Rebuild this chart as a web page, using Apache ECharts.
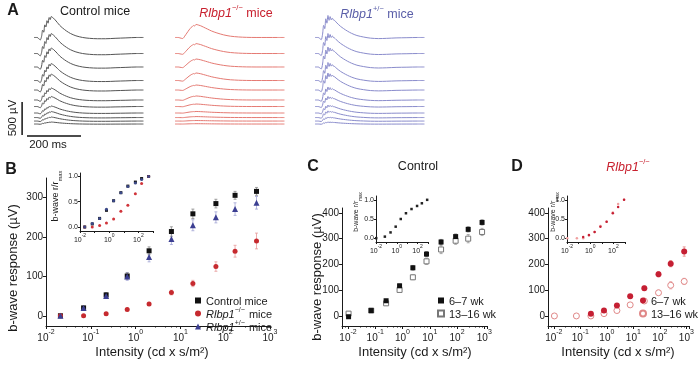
<!DOCTYPE html>
<html>
<head>
<meta charset="utf-8">
<script src="https://cdn.jsdelivr.net/npm/echarts@6.0.0/dist/echarts.min.js"></script>
<style>
html,body{margin:0;padding:0;background:#fff;}
#chart{width:699px;height:371px;}
</style>
</head>
<body>
<div id="chart"></div>
<script>
// ===== Panel A: ERG traces (time in ms, normalised waveform shapes, amplitudes in µV) =====
const traceTimeMs = [0, 12, 18, 23, 28, 32, 36, 40, 44, 48, 52, 56, 60, 64, 68, 72, 78, 86, 95, 105, 120, 135, 155, 180, 205, 235, 265, 300, 340, 380, 405];
const controlShape = [0, 0, -0.06, -0.12, 0.05, 0.35, 0.25, 0.6, 0.5, 0.8, 0.68, 0.95, 0.85, 1.0, 0.96, 0.92, 0.84, 0.72, 0.58, 0.46, 0.31, 0.19, 0.08, 0.0, -0.04, -0.06, -0.06, -0.04, -0.02, 0.0, 0.0];
const knockoutShape = [0, 0, -0.03, -0.06, -0.08, -0.02, 0.1, 0.22, 0.34, 0.46, 0.58, 0.68, 0.78, 0.84, 0.92, 0.88, 1.0, 0.96, 0.9, 0.8, 0.65, 0.5, 0.35, 0.2, 0.1, 0.04, 0.01, 0, 0, 0, 0];
const hetShape = [0, 0, -0.05, -0.1, 0.15, 0.55, 0.4, 0.85, 0.65, 1.0, 0.78, 0.95, 0.8, 0.88, 0.8, 0.78, 0.7, 0.6, 0.5, 0.41, 0.29, 0.19, 0.09, 0.02, -0.03, -0.05, -0.04, -0.02, -0.01, 0.0, 0.0];
const controlAmpUV = [318, 303, 288, 258, 242, 182, 152, 106, 91, 61, 30];
const knockoutAmpUV = [197, 150, 121, 114, 76, 61, 38, 23, 15, 8, 5];
const hetAmpUV = [333, 303, 303, 273, 258, 197, 152, 121, 101, 61, 30];
const traceOffsetUV = [1311, 1068, 864, 659, 515, 364, 265, 167, 98, 45, 0];
const scaleBarUV = 500;
const scaleBarMs = 200;

// ===== Panel B =====
const intensityB = [0.021, 0.069, 0.22, 0.65, 2.0, 6.3, 19, 62, 166, 500];
const controlB = [0, 20, 53, 101, 165, 214, 259, 285, 306, 316];
const controlBErr = [3, 4, 6, 8, 10, 12, 12, 11, 10, 10];
const knockoutB = [0, 0, 5, 16, 30, 59, 82, 125, 164, 190];
const knockoutBErr = [2, 2, 3, 3, 4, 6, 8, 12, 15, 20];
const hetB = [0, 20, 50, 100, 149, 195, 230, 250, 271, 287];
const hetBErr = [3, 4, 6, 10, 12, 14, 14, 14, 16, 16];
const controlBNorm = [0, 0.06, 0.17, 0.33, 0.52, 0.68, 0.81, 0.89, 0.96, 1.0];
const knockoutBNorm = [0, 0, 0.03, 0.08, 0.16, 0.31, 0.43, 0.66, 0.86, 1.0];
const hetBNorm = [0, 0.07, 0.17, 0.35, 0.52, 0.68, 0.8, 0.87, 0.94, 1.0];

// ===== Panels C and D =====
const intensityCD = [0.0105, 0.071, 0.25, 0.78, 2.4, 7.6, 26, 89, 257, 830];
const controlYoung = [-3, 21, 59, 117, 187, 240, 287, 308, 336, 363];
const controlYoungErr = [4, 4, 5, 7, 9, 10, 10, 10, 10, 10];
const controlOld = [9, 21, 49, 101, 150, 212, 258, 292, 300, 326];
const controlOldErr = [5, 4, 5, 7, 9, 12, 16, 14, 16, 14];
const controlYoungNorm = [0, 0.04, 0.15, 0.3, 0.5, 0.65, 0.76, 0.84, 0.91, 1.0];
const knockoutYoung = [null, null, 9, 21, 41, 76, 108, 162, 203, 250];
const knockoutYoungErr = [0, 0, 5, 6, 6, 7, 8, 10, 12, 18];
const knockoutOld = [0, 0, 0, 9, 21, 43, 58, 90, 119, 134];
const knockoutOldErr = [2, 2, 3, 4, 5, 6, 6, 10, 14, 12];
const knockoutYoungNorm = [null, null, 0.03, 0.08, 0.16, 0.3, 0.43, 0.65, 0.81, 1.0];
const knockoutOldNorm = [0, 0, 0, 0.07, 0.16, 0.32, 0.43, 0.67, 0.89, 1.0];

const yTicksB = [0, 100, 200, 300];
const yTicksCD = [0, 100, 200, 300, 400];
const yTicksInset = [0, 0.5, 1.0];

// ===== Styling =====
const FONT = '"Liberation Sans", Arial, Helvetica, sans-serif';
const INK = '#1a1a1a';
const GRAY_TRACE = '#555555';
const RED_TRACE = '#e57a73';
const BLUE_TRACE = '#8a8ccc';
const RED_TITLE = '#c8202e';
const BLUE_TITLE = '#5a5ea8';
const RED_DOT = '#c62a2f';
const BLUE_DOT = '#3c3f92';

const chart = echarts.init(document.getElementById('chart'), null, {renderer: 'canvas'});

const grids = [
  {left: 20, top: 5, width: 124, height: 135},
  {left: 175, top: 5, width: 110, height: 135},
  {left: 315, top: 5, width: 110, height: 135},
  {left: 46, top: 178, width: 224, height: 148},
  {left: 80, top: 173, width: 73, height: 58},
  {left: 342, top: 208, width: 145, height: 118},
  {left: 376, top: 196, width: 52, height: 46},
  {left: 548, top: 208, width: 141, height: 118},
  {left: 567, top: 196, width: 58, height: 46}
];

function powLabel(everyOther) {
  return function (v) {
    const l = Math.log10(v), e = Math.round(l);
    if (Math.abs(l - e) > 0.02) return '';
    if (everyOther && e % 2 !== 0) return '';
    return '{b|10}{s|' + (e < 0 ? '-' + (-e) : e) + '}';
  };
}
function logX(gi, min, max, small) {
  const fs = small ? 7 : 10;
  return {
    type: 'log', logBase: 10, gridIndex: gi, min: min, max: max,
    axisLine: {onZero: false, lineStyle: {color: INK, width: 1}},
    axisTick: {length: small ? 2 : 3, lineStyle: {color: INK}},
    minorTick: {show: true, splitNumber: 5, length: small ? 1 : 1.5, lineStyle: {color: INK}},
    splitLine: {show: false},
    axisLabel: {
      margin: small ? 2 : 3, color: INK, formatter: powLabel(small), hideOverlap: false,
      rich: {
        b: {fontFamily: FONT, fontSize: fs, color: INK, lineHeight: fs + 4, verticalAlign: 'bottom'},
        s: {fontFamily: FONT, fontSize: small ? 5 : 7, color: INK, lineHeight: small ? 5 : 7, verticalAlign: 'top'}
      }
    }
  };
}
function valY(gi, min, max, ticks, small) {
  return {
    type: 'value', gridIndex: gi, min: min, max: max,
    axisLine: {show: true, onZero: false, lineStyle: {color: INK, width: 1}},
    axisTick: {show: true, length: small ? 2 : 3, customValues: ticks, lineStyle: {color: INK}},
    splitLine: {show: false},
    axisLabel: {
      customValues: ticks, fontFamily: FONT, fontSize: small ? 7 : 10, color: INK, margin: small ? 2 : 3,
      formatter: small ? (v => v.toFixed(1)) : (v => String(v))
    }
  };
}
function hiddenAxis(gi, min, max) {
  return {type: 'value', gridIndex: gi, min: min, max: max, show: false};
}

const xAxes = [
  hiddenAxis(0, -51.8, 407), hiddenAxis(1, 0, 407), hiddenAxis(2, 0, 407),
  logX(3, 0.01, 1000, false),
  logX(4, 0.01, 1000, true),
  logX(5, Math.pow(10, -2.22), Math.pow(10, 3.1), false),
  logX(6, 0.01, 1000, true),
  logX(7, Math.pow(10, -2.22), Math.pow(10, 3.1), false),
  logX(8, 0.01, 1000, true)
];
const yAxes = [
  hiddenAxis(0, -242, 1803), hiddenAxis(1, -242, 1803), hiddenAxis(2, -242, 1803),
  valY(3, -26, 350, yTicksB, false),
  valY(4, -0.08, 1.07, yTicksInset, true),
  valY(5, -39, 419, yTicksCD, false),
  valY(6, -0.1, 1.1, yTicksInset, true),
  valY(7, -39, 419, yTicksCD, false),
  valY(8, -0.1, 1.1, yTicksInset, true)
];

const series = [];

// ERG traces
function addTraces(axisIdx, shape, amps, color) {
  amps.forEach(function (amp, i) {
    series.push({
      type: 'line', xAxisIndex: axisIdx, yAxisIndex: axisIdx, silent: true, showSymbol: false, smooth: 0.3,
      lineStyle: {color: color, width: 1},
      data: traceTimeMs.map((t, k) => [t, traceOffsetUV[i] + amp * shape[k]])
    });
  });
}
addTraces(0, controlShape, controlAmpUV, GRAY_TRACE);
addTraces(1, knockoutShape, knockoutAmpUV, RED_TRACE);
addTraces(2, hetShape, hetAmpUV, BLUE_TRACE);

// scale bars (in data units of the control trace panel)
const barT = -44, barBase = -167, barH = -182, barStart = -26;
series.push({type: 'line', xAxisIndex: 0, yAxisIndex: 0, silent: true, showSymbol: false,
  lineStyle: {color: '#111', width: 1.5}, data: [[barT, barBase], [barT, barBase + scaleBarUV]]});
series.push({type: 'line', xAxisIndex: 0, yAxisIndex: 0, silent: true, showSymbol: false,
  lineStyle: {color: '#111', width: 1.5}, data: [[barStart, barH], [barStart + scaleBarMs, barH]]});

function errBars(ai, xs, ys, es, color, cap) {
  return {
    type: 'custom', xAxisIndex: ai, yAxisIndex: ai, silent: true, z: 2,
    data: xs.map((x, i) => ys[i] == null ? null : [x, ys[i], es[i]]).filter(d => d),
    encode: {x: 0, y: 1},
    renderItem: function (params, api) {
      const x = api.value(0), y = api.value(1), e = api.value(2);
      const hi = api.coord([x, y + e]), lo = api.coord([x, y - e]);
      const w = cap / 2;
      const st = {stroke: color, lineWidth: 0.8};
      return {type: 'group', children: [
        {type: 'line', shape: {x1: hi[0], y1: hi[1], x2: lo[0], y2: lo[1]}, style: st},
        {type: 'line', shape: {x1: hi[0] - w, y1: hi[1], x2: hi[0] + w, y2: hi[1]}, style: st},
        {type: 'line', shape: {x1: lo[0] - w, y1: lo[1], x2: lo[0] + w, y2: lo[1]}, style: st}
      ]};
    }
  };
}
function scat(name, ai, xs, ys, symbol, size, fill, stroke) {
  return {
    type: 'scatter', name: name, xAxisIndex: ai, yAxisIndex: ai, silent: true, z: 3,
    symbol: symbol, symbolSize: size,
    data: xs.map((x, i) => ys[i] == null ? null : [x, ys[i]]).filter(d => d),
    itemStyle: {color: fill, borderColor: stroke || fill, borderWidth: stroke ? 1 : 0, opacity: 1}
  };
}

// Panel B
series.push(errBars(3, intensityB, knockoutB, knockoutBErr, '#e79a9a', 3));
series.push(errBars(3, intensityB, hetB, hetBErr, '#a2a4d4', 3));
series.push(errBars(3, intensityB, controlB, controlBErr, '#8a8a8a', 3));
series.push(scat('Control mice', 3, intensityB, controlB, 'rect', 5, '#111'));
series.push(scat('KO mice', 3, intensityB, knockoutB, 'circle', 5, RED_DOT));
series.push(scat('Het mice', 3, intensityB, hetB, 'triangle', 6, BLUE_DOT));
// Panel B inset
series.push(scat('bi-c', 4, intensityB, controlBNorm, 'rect', 3, '#111'));
series.push(scat('bi-k', 4, intensityB, knockoutBNorm, 'circle', 3, '#d0343a'));
series.push(scat('bi-h', 4, intensityB, hetBNorm, 'circle', 3, '#3c4a8a'));

// Panel C
series.push(errBars(5, intensityCD, controlOld, controlOldErr, '#999', 3));
series.push(errBars(5, intensityCD, controlYoung, controlYoungErr, '#777', 3));
series.push(scat('C 13–16 wk', 5, intensityCD, controlOld, 'rect', 5, '#fff', '#777'));
series.push(scat('C 6–7 wk', 5, intensityCD, controlYoung, 'rect', 5, '#111'));
series.push(scat('ci', 6, intensityCD, controlYoungNorm, 'rect', 2.5, '#222'));

// Panel D
series.push(errBars(7, intensityCD, knockoutOld, knockoutOldErr, '#eaa0a0', 3));
series.push(errBars(7, intensityCD, knockoutYoung, knockoutYoungErr, '#e58080', 3));
series.push(scat('D 13–16 wk', 7, intensityCD, knockoutOld, 'circle', 6, '#fff', '#e08888'));
series.push(scat('D 6–7 wk', 7, intensityCD, knockoutYoung, 'circle', 6, '#c51f33'));
series.push(scat('di-o', 8, intensityCD, knockoutOldNorm, 'circle', 2.5, '#f0a0a0'));
series.push(scat('di-y', 8, intensityCD, knockoutYoungNorm, 'circle', 2.5, '#c51f33'));

const legRich = {
  i: {fontFamily: FONT, fontSize: 11, fontStyle: 'italic', color: INK, lineHeight: 13, verticalAlign: 'bottom'},
  s: {fontFamily: FONT, fontSize: 7, color: INK, lineHeight: 8, verticalAlign: 'top', padding: [0, 1, 0, 0]},
  n: {fontFamily: FONT, fontSize: 11, color: INK, lineHeight: 13, verticalAlign: 'bottom'}
};
function legend(left, top, data, fmt) {
  return {
    left: left, top: top, orient: 'vertical', padding: 0, itemGap: 0, itemWidth: 6, itemHeight: 6,
    selectedMode: false, data: data, formatter: fmt,
    textStyle: {fontFamily: FONT, fontSize: 11, color: INK, lineHeight: 13, rich: legRich}
  };
}
const legends = [
  legend(195, 294, ['Control mice', 'KO mice', 'Het mice'], function (n) {
    if (n === 'KO mice') return '{i|Rlbp1}{s|−/−}{n|\u00a0mice}';
    if (n === 'Het mice') return '{i|Rlbp1}{s|+/−}{n|\u00a0mice}';
    return '{n|' + n + '}';
  }),
  legend(437, 294, ['C 6–7 wk', 'C 13–16 wk'], n => '{n|' + n.slice(2) + '}'),
  legend(639, 294, ['D 6–7 wk', 'D 13–16 wk'], n => '{n|' + n.slice(2) + '}')
];

function T(text, x, y, o) {
  o = o || {};
  return {
    type: 'text', x: x, y: y, rotation: o.rot || 0, silent: true,
    style: {
      text: text, fill: o.color || INK, fontFamily: FONT, fontSize: o.size || 12.5,
      fontWeight: o.bold ? 'bold' : 'normal', fontStyle: o.italic ? 'italic' : 'normal',
      align: o.align || 'center', verticalAlign: 'middle',
      textAlign: o.align || 'center', textVerticalAlign: 'middle', rich: o.rich
    }
  };
}
function geneRich(color, size) {
  return {
    i: {fontFamily: FONT, fontSize: size, fontStyle: 'italic', fill: color, color: color, lineHeight: size + 3, verticalAlign: 'bottom'},
    s: {fontFamily: FONT, fontSize: size * 0.6, fill: color, color: color, lineHeight: size * 0.6, verticalAlign: 'top'},
    n: {fontFamily: FONT, fontSize: size, fill: color, color: color, lineHeight: size + 3, verticalAlign: 'bottom'}
  };
}
function subRich(size) {
  return {
    n: {fontFamily: FONT, fontSize: size, fill: INK, lineHeight: size + 3, verticalAlign: 'top'},
    m: {fontFamily: FONT, fontSize: size * 0.65, fill: INK, lineHeight: size * 0.65, verticalAlign: 'bottom'}
  };
}
const HALF = Math.PI / 2;
const graphic = [
  T('A', 13, 11, {size: 16, bold: true}),
  T('Control mice', 95, 12),
  T('{i|Rlbp1}{s|−/−}{n|\u00a0mice}', 236, 12, {color: RED_TITLE, rich: geneRich(RED_TITLE, 12.5)}),
  T('{i|Rlbp1}{s|+/−}{n|\u00a0mice}', 377, 13, {color: BLUE_TITLE, rich: geneRich(BLUE_TITLE, 12.5)}),
  T('500 µV', 13, 118, {size: 11.5, rot: HALF}),
  T('200 ms', 48, 145, {size: 11.5}),
  T('B', 11, 170, {size: 16, bold: true}),
  T('b-wave response (µV)', 13, 268, {size: 13, rot: HALF}),
  T('Intensity (cd x s/m²)', 152, 352, {size: 13}),
  T('{n|b-wave r/r}{m|max}', 57, 196, {size: 9, rot: HALF, rich: subRich(9)}),
  T('C', 313, 167, {size: 16, bold: true}),
  T('Control', 418, 167),
  T('b-wave response (µV)', 317, 277, {size: 13, rot: HALF}),
  T('Intensity (cd x s/m²)', 415, 352, {size: 13}),
  T('{n|b-wave r/r}{m|max}', 358, 212, {size: 7, rot: HALF, rich: subRich(7)}),
  T('D', 517, 167, {size: 16, bold: true}),
  T('{i|Rlbp1}{s|−/−}', 628, 166, {color: RED_TITLE, rich: geneRich(RED_TITLE, 12.5)}),
  T('Intensity (cd x s/m²)', 618, 352, {size: 13}),
  T('{n|b-wave r/r}{m|max}', 555, 212, {size: 7, rot: HALF, rich: subRich(7)})
];

chart.setOption({
  animation: false,
  backgroundColor: '#fff',
  grid: grids,
  xAxis: xAxes,
  yAxis: yAxes,
  legend: legends,
  series: series,
  graphic: graphic
});
</script>
</body>
</html>
